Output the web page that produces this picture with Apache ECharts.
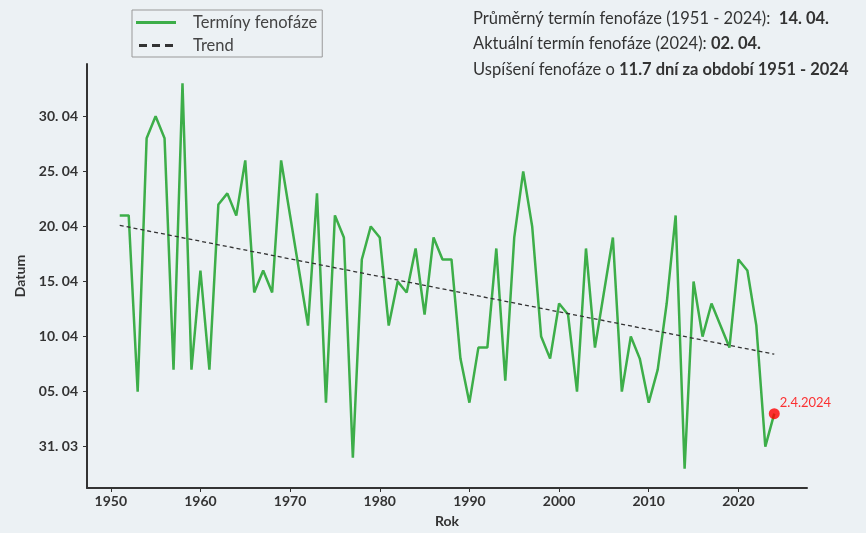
<!DOCTYPE html>
<html>
<head>
<meta charset="utf-8">
<script src="https://cdn.jsdelivr.net/npm/echarts@6/dist/echarts.min.js"></script>
<style>
  html, body { margin: 0; padding: 0; background: #ecf1f4; }
  #main { width: 866px; height: 533px; }
</style>
</head>
<body>
<div id="main"></div>
<script>
// roky a termíny (dny od 31. 03., tj. 0 = 31. 03., 5 = 05. 04.)
var years = [1951, 1952, 1953, 1954, 1955, 1956, 1957, 1958, 1959, 1960,
             1961, 1962, 1963, 1964, 1965, 1966, 1967, 1968, 1969, 1970,
             1971, 1972, 1973, 1974, 1975, 1976, 1977, 1978, 1979, 1980,
             1981, 1982, 1983, 1984, 1985, 1986, 1987, 1988, 1989, 1990,
             1991, 1992, 1993, 1994, 1995, 1996, 1997, 1998, 1999, 2000,
             2001, 2002, 2003, 2004, 2005, 2006, 2007, 2008, 2009, 2010,
             2011, 2012, 2013, 2014, 2015, 2016, 2017, 2018, 2019, 2020,
             2021, 2022, 2023, 2024];
var terms = [21, 21, 5, 28, 30, 28, 7, 33, 7, 16,
             7, 22, 23, 21, 26, 14, 16, 14, 26, 21,
             16, 11, 23, 4, 21, 19, -1, 17, 20, 19,
             11, 15, 14, 18, 12, 19, 17, 17, 8, 4,
             9, 9, 18, 6, 19, 25, 20, 10, 8, 13,
             12, 5, 18, 9, 14, 19, 5, 10, 8, 4,
             7, 13, 21, -2, 15, 10, 13, 11, 9, 17,
             16, 11, 0, 3];
var trendYears = [1951, 2024];
var trendValues = [20.1, 8.4];
var currentYear = 2024;
var currentValue = 3;
var currentLabel = '2.4.2024';

var xTicks = [1950, 1960, 1970, 1980, 1990, 2000, 2010, 2020];
var yTicks = [0, 5, 10, 15, 20, 25, 30];
var yTickLabels = ['31. 03', '05. 04', '10. 04', '15. 04', '20. 04', '25. 04', '30. 04'];

var pts = [];
for (var i = 0; i < years.length; i++) pts.push([years[i], terms[i]]);
var trendPts = [];
for (var j = 0; j < trendYears.length; j++) trendPts.push([trendYears[j], trendValues[j]]);

var chart = echarts.init(document.getElementById('main'));
var font = 'Lato';
var rich = {
    n: { fontFamily: font, fontSize: 16.5, fill: '#333' },
    b: { fontFamily: font, fontSize: 16.5, fontWeight: 'bold', fill: '#333' }
};
chart.setOption({
    backgroundColor: '#ecf1f4',
    animation: false,
    grid: { left: 87, right: 59, top: 64, bottom: 42 },
    legend: {
        orient: 'vertical',
        left: 132, top: 10,
        data: [
            { name: 'Termíny fenofáze', icon: 'rect', itemStyle: { color: '#3dae49' } },
            { name: 'Trend', icon: 'path://M0,0H8V3H0Z M13,0H21V3H13Z M26,0H34V3H26Z', itemStyle: { color: '#333' } }
        ],
        borderColor: '#999', borderWidth: 1, borderRadius: 0,
        padding: [4, 5, 3, 4],
        itemGap: 6, itemWidth: 40, itemHeight: 3,
        textStyle: { fontFamily: font, fontSize: 16.5, color: '#444', padding: [0, 0, 0, 12] }
    },
    xAxis: {
        type: 'value', min: 1947.35, max: 2027.65,
        name: 'Rok', nameLocation: 'middle', nameGap: 26,
        nameTextStyle: { fontFamily: font, fontSize: 14, fontWeight: 'bold', color: '#333' },
        axisLine: { onZero: false, lineStyle: { color: '#333', width: 2 } },
        axisTick: { show: true, length: 4, customValues: xTicks, lineStyle: { color: '#333' } },
        axisLabel: {
            customValues: xTicks, fontFamily: font, fontSize: 14, fontWeight: 'bold', color: '#333', margin: 6,
            formatter: function (v) { return String(v); }
        },
        splitLine: { show: false }
    },
    yAxis: {
        type: 'value', min: -3.75, max: 34.75,
        name: 'Datum', nameLocation: 'middle', nameGap: 58,
        nameTextStyle: { fontFamily: font, fontSize: 14, fontWeight: 'bold', color: '#333' },
        axisLine: { show: true, onZero: false, lineStyle: { color: '#333', width: 2 } },
        axisTick: { show: true, length: 4, customValues: yTicks, lineStyle: { color: '#333' } },
        axisLabel: {
            customValues: yTicks, fontFamily: font, fontSize: 14, fontWeight: 'bold', color: '#333', margin: 9,
            formatter: function (v) { return yTickLabels[yTicks.indexOf(v)]; }
        },
        splitLine: { show: false }
    },
    series: [
        {
            name: 'Termíny fenofáze', type: 'line', data: pts,
            symbol: 'none', color: '#3dae49',
            lineStyle: { color: '#3dae49', width: 2.5 }
        },
        {
            name: 'Trend', type: 'line', data: trendPts,
            symbol: 'none', color: '#333',
            lineStyle: { color: '#333', width: 1.3, type: [4, 3] }
        },
        {
            name: 'current', type: 'scatter', data: [[currentYear, currentValue]],
            symbolSize: 11, itemStyle: { color: '#ff0000' }, z: 5,
            label: {
                show: true, position: [11, -12], formatter: currentLabel,
                fontFamily: font, fontSize: 13, color: '#ff0000'
            }
        }
    ],
    graphic: [
        {
            type: 'text', left: 473, top: 10,
            style: { text: '{n|Průměrný termín fenofáze (1951 - 2024):  }{b|14. 04.}', rich: rich }
        },
        {
            type: 'text', left: 473, top: 35,
            style: { text: '{n|Aktuální termín fenofáze (2024): }{b|02. 04.}', rich: rich }
        },
        {
            type: 'text', left: 473, top: 61,
            style: { text: '{n|Uspíšení fenofáze o }{b|11.7 dní za období 1951 - 2024}', rich: rich }
        }
    ]
});
</script>
</body>
</html>
